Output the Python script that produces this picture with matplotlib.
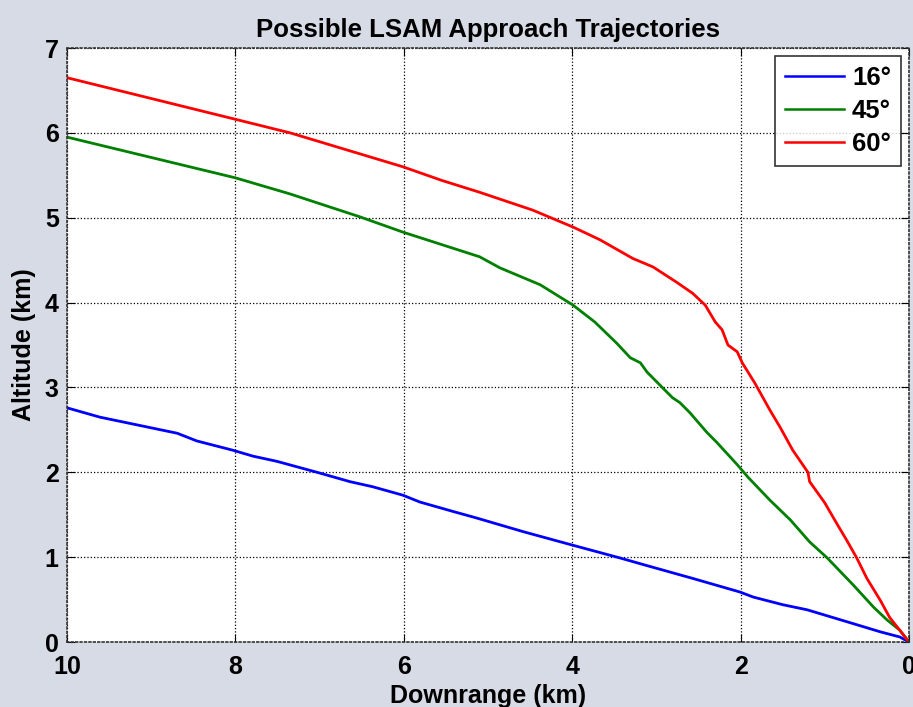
import matplotlib
matplotlib.use("Agg")
import matplotlib.pyplot as plt

# downrange (km) and altitude (km) for each approach angle
downrange_16 = [10, 9.61, 8.69, 8.46, 8.03, 7.79, 7.51, 7.03, 6.64, 6.37, 6.01, 5.81,
                5.42, 5.13, 4.58, 3.99, 3.43, 3.11, 2.57, 2.01, 1.85, 1.50, 1.21, 0.74,
                0.34, 0.11, 0]
altitude_16 = [2.76, 2.65, 2.46, 2.37, 2.26, 2.19, 2.13, 2.00, 1.89, 1.83, 1.73, 1.65,
               1.54, 1.46, 1.30, 1.14, 0.99, 0.90, 0.75, 0.59, 0.53, 0.44, 0.38, 0.24,
               0.12, 0.06, 0]

downrange_45 = [10, 8.0, 7.35, 6.52, 6.01, 5.10, 4.86, 4.38, 3.99, 3.73, 3.47, 3.31,
                3.19, 3.11, 2.92, 2.81, 2.72, 2.60, 2.40, 2.28, 2.04, 1.91, 1.65, 1.41,
                1.18, 0.97, 0.66, 0.42, 0.26, 0.11, 0]
altitude_45 = [5.95, 5.47, 5.28, 5.01, 4.83, 4.54, 4.41, 4.21, 3.97, 3.77, 3.52, 3.35,
               3.29, 3.18, 2.99, 2.88, 2.82, 2.70, 2.47, 2.35, 2.09, 1.94, 1.67, 1.44,
               1.18, 0.99, 0.67, 0.41, 0.26, 0.14, 0]

downrange_60 = [10, 8.0, 7.35, 6.01, 5.55, 5.10, 4.47, 3.99, 3.67, 3.28, 3.04, 2.76,
                2.57, 2.42, 2.30, 2.22, 2.15, 2.04, 1.98, 1.83, 1.65, 1.53, 1.38, 1.20,
                1.18, 1.00, 0.86, 0.74, 0.62, 0.50, 0.34, 0.23, 0.11, 0]
altitude_60 = [6.65, 6.16, 6.00, 5.60, 5.44, 5.30, 5.09, 4.89, 4.74, 4.52, 4.42, 4.24,
               4.11, 3.97, 3.77, 3.68, 3.50, 3.42, 3.29, 3.05, 2.73, 2.53, 2.26, 2.00,
               1.89, 1.64, 1.40, 1.20, 0.99, 0.75, 0.49, 0.29, 0.14, 0]

x_ticks = [10, 8, 6, 4, 2, 0]
y_ticks = [0, 1, 2, 3, 4, 5, 6, 7]

plt.rcParams["font.family"] = ["Liberation Sans", "DejaVu Sans"]
plt.rcParams["font.weight"] = "bold"

fig = plt.figure(figsize=(9.13, 7.07), dpi=100, facecolor="#d6dbe5")
ax = fig.add_axes([0.0734, 0.0919, 0.9222, 0.8402])
ax.set_facecolor("white")

ax.plot(downrange_16, altitude_16, color="#0000ff", lw=2.0, label="16°")
ax.plot(downrange_45, altitude_45, color="#008000", lw=2.0, label="45°")
ax.plot(downrange_60, altitude_60, color="#ff0000", lw=2.0, label="60°")

ax.set_xlim(10, 0)
ax.set_ylim(0, 7)
ax.set_xticks(x_ticks)
ax.set_yticks(y_ticks)
ax.grid(True, color="black", linestyle=":", linewidth=0.9)

for spine in ax.spines.values():
    spine.set_linestyle(":")
    spine.set_color("#333333")
    spine.set_linewidth(1.2)

ax.tick_params(direction="in", length=6, width=0.8, top=True, right=True,
               labelsize=18)
ax.tick_params(axis="x", pad=9)
ax.tick_params(axis="y", pad=6)

ax.set_title("Possible LSAM Approach Trajectories", fontsize=18.5,
             fontweight="bold", pad=8)
ax.set_xlabel("Downrange (km)", fontsize=18, fontweight="bold", labelpad=4)
ax.set_ylabel("Altitude (km)", fontsize=18, fontweight="bold", labelpad=6)

leg = ax.legend(loc="upper right", fontsize=18.5, frameon=True, fancybox=False,
                edgecolor="black", handlelength=2.3, handletextpad=0.3,
                labelspacing=0.35, borderpad=0.4, borderaxespad=0.3)
leg.get_frame().set_linewidth(1.2)
for line in leg.get_lines():
    line.set_linewidth(1.8)

fig.savefig("out.png", dpi=100, facecolor=fig.get_facecolor())
